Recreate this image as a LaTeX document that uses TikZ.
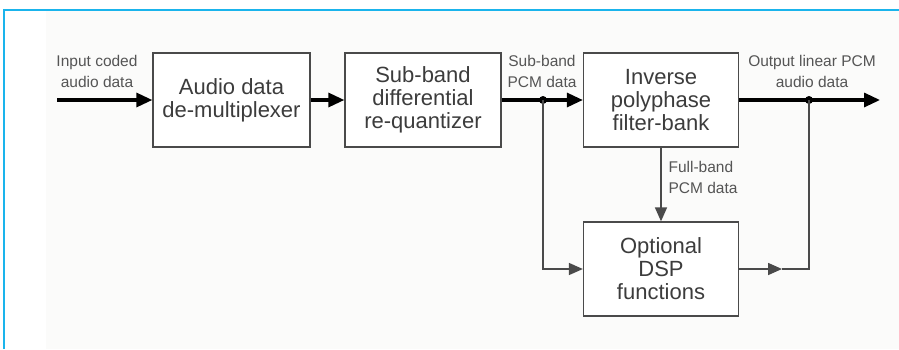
\documentclass[tikz,border=0pt]{standalone}
\usepackage{fontspec}
\setmainfont{Liberation Sans}
\usepackage{tikz}
\usetikzlibrary{arrows.meta,positioning}

\definecolor{framecyan}{HTML}{1AB4EC}
\definecolor{bggray}{HTML}{FBFBFA}
\definecolor{boxgray}{HTML}{4A4A4A}
\definecolor{textgray}{HTML}{3C3C3C}
\definecolor{labelgray}{HTML}{555555}

\begin{document}
\begin{tikzpicture}[
    x=1pt, y=-1pt,
    >={Triangle[length=16pt,width=14pt]},
    block/.style={draw=boxgray, line width=1.3pt, fill=white, text=textgray,
      minimum width=155pt, minimum height=94pt, align=center,
      font=\fontsize{22}{23}\selectfont},
    lbl/.style={text=labelgray, align=center, font=\fontsize{15.5}{21}\selectfont},
    mainline/.style={line width=3.2pt, black},
    sideline/.style={line width=1.6pt, boxgray},
    sidetip/.style={-{Triangle[length=14pt,width=12pt]}},
    joint/.style={circle, fill=black, inner sep=0pt, minimum size=8pt}
  ]

    %=== Rahmen und Hintergrund ===%
    \useasboundingbox (0,0) rectangle (899,349);
    \fill[bggray] (46,11) rectangle (899,349);
    \draw[framecyan, line width=1.6pt] (4,349) -- (4,10) -- (899,10);

    %=== X-Positionen ===%
    \def\xdemux{231.5}
    \def\xreq{423}
    \def\xipf{661}

    %=== Bloecke ===%
    \node[block, minimum width=157pt] (demux) at (\xdemux,100) {Audio data\\de-multiplexer};
    \node[block, minimum width=156pt] (requant) at (\xreq,100) {Sub-band\\differential\\re-quantizer};
    \node[block] (ipfb) at (\xipf,100) {Inverse\\polyphase\\filter-bank};
    \node[block] (dsp) at (\xipf,269) {Optional\\DSP\\functions};

    %=== Anschluesse und Verzweigungen ===%
    \coordinate (in) at (57,100);
    \coordinate (out) at (880,100);
    \coordinate (dspout) at (782,269);
    \node[joint] (split1) at (543,100) {};
    \node[joint] (split2) at (809,100) {};

    %=== Beschriftungen ===%
    \node[lbl] (inlbl) at (97,71) {Input coded\\audio data};
    \node[lbl] (sblbl) at (542,71) {Sub-band\\PCM data};
    \node[lbl] (outlbl) at (812,71) {Output linear PCM\\audio data};
    \node[lbl, align=left, anchor=west] (fblbl) at (665,177) {Full-band\\PCM data};

    %=== Hauptsignalweg ===%
    \draw[mainline, ->] (in) -- (demux);
    \draw[mainline, ->] (demux) -- (requant);
    \draw[mainline, ->] (requant) -- (ipfb);
    \draw[mainline, ->] (ipfb) -- (out);

    %=== Nebenpfad ueber DSP ===%
    \draw[sideline, sidetip] (split1.center) |- (dsp.west);
    \draw[sideline, sidetip] (ipfb) -- (dsp);
    \draw[sideline, sidetip] (dsp.east) -- (dspout);
    \draw[sideline] (dspout) -| (split2.center);

\end{tikzpicture}
\end{document}
